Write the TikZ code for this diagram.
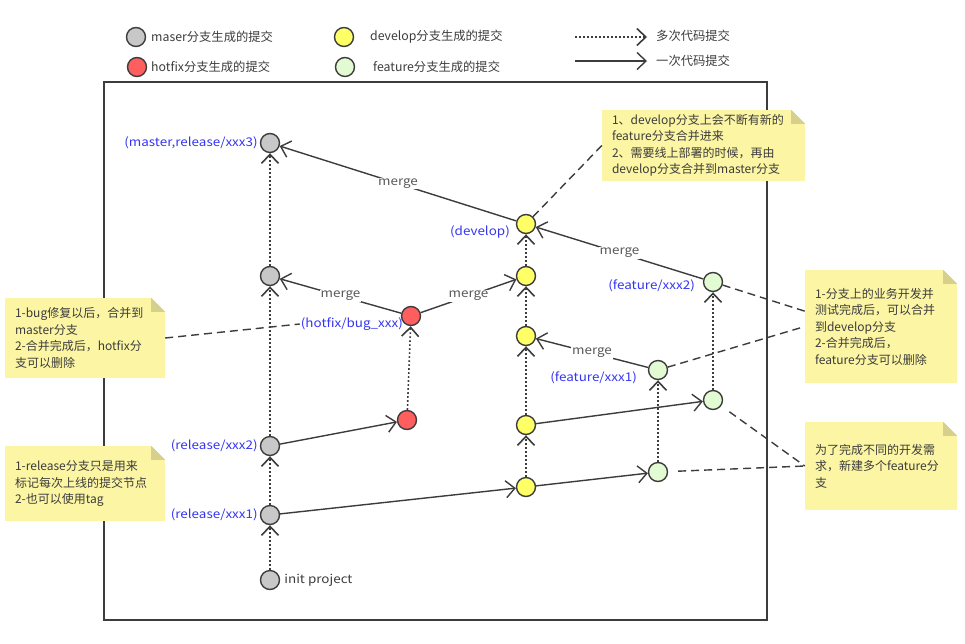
\documentclass[tikz,border=0pt]{standalone}
\usepackage{fontspec}
\setmainfont{Noto Sans CJK SC}
\newfontfamily\widefont[FakeStretch=1.12]{Noto Sans CJK SC}
\usetikzlibrary{arrows.meta, positioning, calc}
\definecolor{ink}{HTML}{3C3C3C}
\definecolor{tagblue}{HTML}{3535F2}
\definecolor{grayc}{HTML}{C8C8C8}
\definecolor{redc}{HTML}{FF5E5E}
\definecolor{yelc}{HTML}{FFFF66}
\definecolor{grnc}{HTML}{E2FBD2}
\definecolor{notey}{HTML}{FCF6A4}
\definecolor{foldc}{HTML}{D6D08A}
% folded top right corner of a note
\newcommand\foldnote[1]{%
  \fill[white] (#1.north east) -- ++(-14,0) -- ++(14,14) -- cycle;
  \fill[foldc] ($(#1.north east)+(-14,0)$) -- ++(0,14) -- ++(14,0) -- cycle;}

\begin{document}
\begin{tikzpicture}[x=1pt, y=-1pt,
      commit/.style={circle, draw=ink, line width=1.4pt, minimum size=19pt, inner sep=0pt},
      mas/.style={commit, fill=grayc},
      hot/.style={commit, fill=redc},
      dev/.style={commit, fill=yelc},
      feat/.style={commit, fill=grnc},
      arr/.style={-{Straight Barb[length=9pt, width=17pt]}, ink, line width=1.4pt},
      dots/.style={arr, line width=1.6pt, dash pattern=on 1.6pt off 2.4pt},
      mrg/.style={fill=white, text=ink!85, font=\widefont\fontsize{12}{13}\selectfont, inner sep=1pt},
      tag/.style={text=tagblue, font=\widefont\fontsize{12}{13}\selectfont, inner sep=1pt},
      txt/.style={text=ink, font=\fontsize{12.3}{13}\selectfont, inner sep=1pt, anchor=west},
      note/.style={fill=notey, align=left, inner xsep=10pt, text=ink,
                   font=\fontsize{12}{16.5}\selectfont},
      link/.style={ink, line width=1.4pt, dash pattern=on 8pt off 5pt}]
    \useasboundingbox (0,0) rectangle (965,643);
    % legend
    \node[mas]  (lgm) at (136,37) {};
    \node[hot]  (lgh) at (137,67) {};
    \node[dev]  (lgd) at (344,37) {};
    \node[feat] (lgf) at (345,67) {};
    \node[txt] (lgmt) at (150,37) {maser分支生成的提交};
    \node[txt] (lght) at (150,67) {hotfix分支生成的提交};
    \node[txt] (lgdt) at (369,37) {develop分支生成的提交};
    \node[txt] (lgft) at (372,67) {feature分支生成的提交};
    \coordinate (la1) at (575,37); \coordinate (la2) at (647,37);
    \coordinate (lb1) at (575,61); \coordinate (lb2) at (647,61);
    \draw[dots] (la1) -- (la2); \draw[arr] (lb1) -- (lb2);
    \node[txt] (lat) at (655,36) {多次代码提交};
    \node[txt] (lbt) at (655,61) {一次代码提交};
    % frame
    \draw[ink, line width=1.8pt] (104,82) rectangle (767,620);
    % commits
    \node[mas]  (m3)  at (270,143) {};
    \node[mas]  (m2)  at (270,276) {};
    \node[mas]  (r2)  at (270,446) {};
    \node[mas]  (r1)  at (270,515) {};
    \node[mas]  (ini) at (270,580) {};
    \node[hot]  (h1)  at (411,316) {};
    \node[hot]  (h0)  at (407,420) {};
    \node[dev]  (d5)  at (526,224) {};
    \node[dev]  (d4)  at (526,276) {};
    \node[dev]  (d3)  at (526,336) {};
    \node[dev]  (d2)  at (526,425) {};
    \node[dev]  (d1)  at (526,487) {};
    \node[feat] (f2)  at (713,282) {};
    \node[feat] (f1)  at (658,370) {};
    \node[feat] (f2a) at (713,400) {};
    \node[feat] (f1a) at (658,472) {};
    % branch tags
    \node[tag, left=1pt of m3] (tm3) {(master,release/xxx3)};
    \node[tag, anchor=east] (td5) at (511,232) {(develop)};
    \node[tag, anchor=east] (tf2) at (696,286) {(feature/xxx2)};
    \node[tag, anchor=east] (tf1) at (638,378) {(feature/xxx1)};
    \node[tag, anchor=east] (th1) at (404,324) {(hotfix/bug\_xxx)};
    \node[tag, left=1pt of r2] (tr2) {(release/xxx2)};
    \node[tag, left=1pt of r1] (tr1) {(release/xxx1)};
    \node[txt, font=\widefont\fontsize{12}{13}\selectfont, right=3pt of ini] (tini) {init project};
    % commits on one branch
    \draw[dots] (ini) -- (r1); \draw[dots] (r1) -- (r2);
    \draw[dots] (r2) -- (m2);  \draw[dots] (m2) -- (m3);
    \draw[dots] (h0) -- (h1);
    \draw[dots] (d1) -- (d2);  \draw[dots] (d2) -- (d3);
    \draw[dots] (d3) -- (d4);  \draw[dots] (d4) -- (d5);
    \draw[dots] (f1a) -- (f1); \draw[dots] (f2a) -- (f2);
    % new branches
    \draw[arr] (r2) -- (h0);  \draw[arr] (r1) -- (d1);
    \draw[arr] (d2) -- (f2a); \draw[arr] (d1) -- (f1a);
    % merges
    \draw[arr] (h1) -- node[mrg] (mg1) {merge} (m2);
    \draw[arr] (h1) -- node[mrg] (mg2) {merge} (d4);
    \draw[arr] (d5) -- node[mrg] (mg3) {merge} (m3);
    \draw[arr] (f2) -- node[mrg] (mg4) {merge} (d5);
    \draw[arr] (f1) -- node[mrg] (mg5) {merge} (d3);
    % notes
    \node[note, text width=183pt, minimum height=71pt] (n1) at (703.5,145.5)
      {1、develop分支上会不断有新的\\feature分支合并进来\\2、需要线上部署的时候，再由\\develop分支合并到master分支};
    \node[note, text width=140pt, minimum height=80pt] (n2) at (85,338)
      {1-bug修复以后，合并到\\master分支\\2-合并完成后，hotfix分\\支可以删除};
    \node[note, text width=140pt, minimum height=75pt] (n3) at (85,483.5)
      {1-release分支只是用来\\标记每次上线的提交节点\\2-也可以使用tag};
    \node[note, text width=132pt, minimum height=113pt] (n4) at (881,326.5)
      {1-分支上的业务开发并\\测试完成后，可以合并\\到develop分支\\2-合并完成后，\\feature分支可以删除};
    \node[note, text width=132pt, minimum height=88pt] (n5) at (881,466)
      {为了完成不同的开发需\\求，新建多个feature分\\支};
    \foldnote{n1} \foldnote{n2} \foldnote{n3} \foldnote{n4} \foldnote{n5}
    % note links
    \coordinate (n4a) at ($(n4.west)+(1,-15)$);
    \draw[link] (d5) -- (n1.west);
    \draw[link] (n2.east) -- (th1.west);
    \draw[link] (f2) -- (n4a);
    \draw[link] (f1) -- (n4.west);
    \draw[link, shorten <=10pt] (f2a) -- (n5.west);
    \draw[link, shorten <=10pt] (f1a) -- (n5.west);
  \end{tikzpicture}
\end{document}
